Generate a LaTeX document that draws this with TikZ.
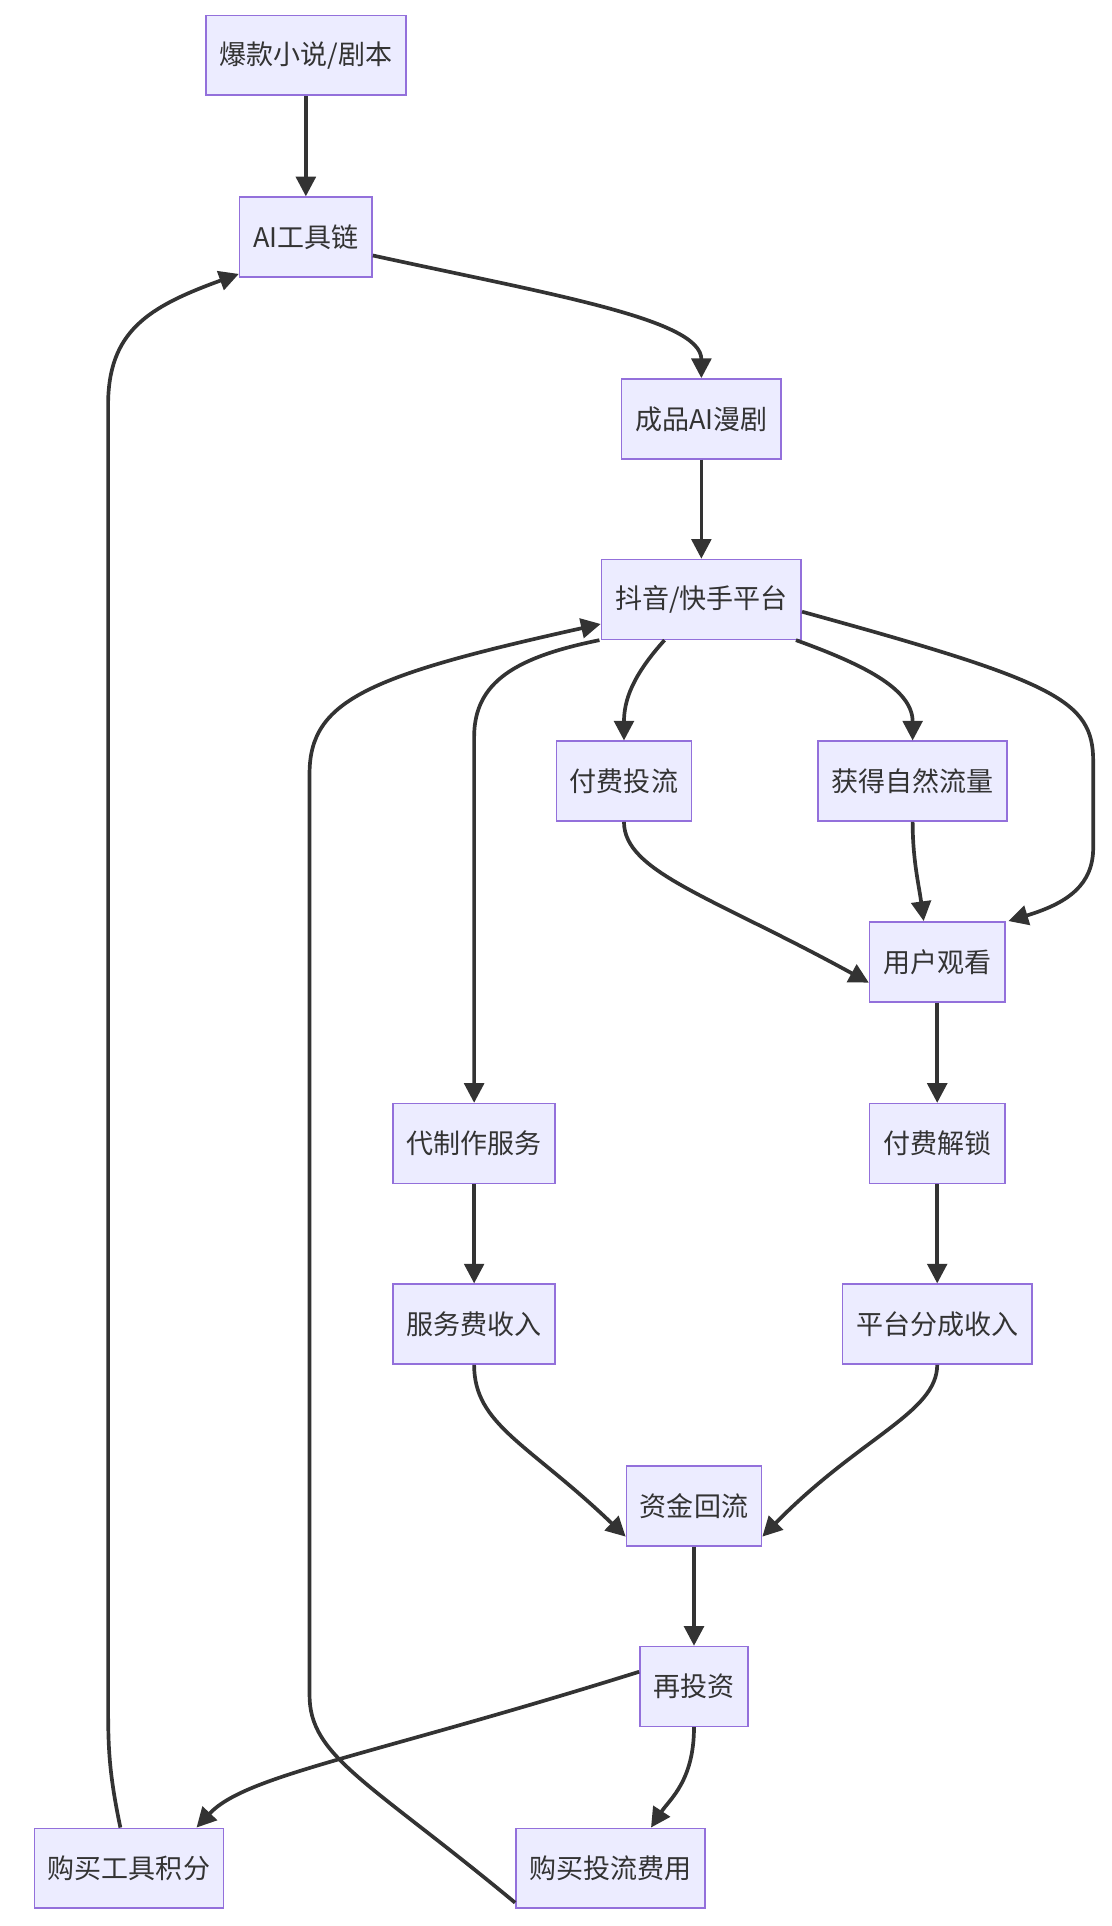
\documentclass[tikz,border=0pt]{standalone}
\usepackage{fontspec}
\newfontfamily\cjk{Noto Sans CJK SC}
\usetikzlibrary{arrows.meta}
\definecolor{nf}{HTML}{ECECFF}
\definecolor{nb}{HTML}{9370DB}
\definecolor{ln}{HTML}{333333}
\begin{document}
\begin{tikzpicture}[x=1pt,y=-1pt,
 box/.style={draw=nb,fill=nf,line width=1.3pt,minimum height=65pt,inner xsep=11pt,font=\cjk\fontsize{22}{26}\selectfont,text=ln},
 ar/.style={draw=ln,line width=3pt,-{Triangle[length=16pt,width=16pt]}}]
\useasboundingbox (0,0) rectangle (905,1568);
\node[box] (a) at (249,45) {爆款小说/剧本};
\node[box] (b) at (249,193) {AI工具链};
\node[box] (c) at (571,341) {成品AI漫剧};
\node[box] (d) at (571,488) {抖音/快手平台};
\node[box] (e) at (508,636) {付费投流};
\node[box] (f) at (743,636) {获得自然流量};
\node[box] (g) at (763,783) {用户观看};
\node[box] (h) at (386,931) {代制作服务};
\node[box] (i) at (763,931) {付费解锁};
\node[box] (j) at (386,1078) {服务费收入};
\node[box] (k) at (763,1078) {平台分成收入};
\node[box] (l) at (565,1226) {资金回流};
\node[box] (m) at (565,1373) {再投资};
\node[box] (n) at (105,1521) {购买工具积分};
\node[box] (o) at (497,1521) {购买投流费用};
\draw[ar] (a) -- (b);
\draw[ar] (b.east) ++(0,15) .. controls (450,240) and (571,260) .. (c.north);
\draw[ar] (c) -- (d);
\draw[ar] ([xshift=-30pt]d.south) .. controls (515,550) and (508,570) .. (e.north);
\draw[ar] ([xshift=77pt]d.south) .. controls (700,540) and (743,560) .. (f.north);
\draw[ar] ([yshift=-10pt]d.east) .. controls (860,555) and (890,570) .. (890,620) -- (890,690) .. controls (890,720) and (870,735) .. ([xshift=58pt]g.north);
\draw[ar] ([xshift=-83pt]d.south) .. controls (420,535) and (386,555) .. (386,600) -- (h.north);
\draw[ar] (e.south) .. controls (508,710) and (580,730) .. ([yshift=-17pt]g.west);
\draw[ar] (f.south) .. controls (743,700) and (748,720) .. ([xshift=-11pt]g.north);
\draw[ar] (g) -- (i);
\draw[ar] (i) -- (k);
\draw[ar] (h) -- (j);
\draw[ar] (j.south) .. controls (386,1160) and (430,1175) .. ([yshift=-25pt]l.west);
\draw[ar] (k.south) .. controls (763,1150) and (700,1170) .. ([yshift=-25pt]l.east);
\draw[ar] (l) -- (m);
\draw[ar] ([yshift=12pt]m.west) .. controls (300,1430) and (200,1445) .. ([xshift=55pt]n.north);
\draw[ar] (m.south) .. controls (565,1450) and (545,1465) .. ([xshift=33pt]o.north);
\draw[ar] ([xshift=-7pt]n.north) .. controls (88,1440) and (88,1420) .. (88,1380) -- (88,330) .. controls (88,270) and (120,250) .. ([yshift=-30pt]b.west);
\draw[ar] ([yshift=-28pt]o.west) .. controls (300,1450) and (252,1430) .. (252,1380) -- (252,630) .. controls (252,570) and (300,550) .. ([yshift=-20pt]d.west);
\end{tikzpicture}
\end{document}
